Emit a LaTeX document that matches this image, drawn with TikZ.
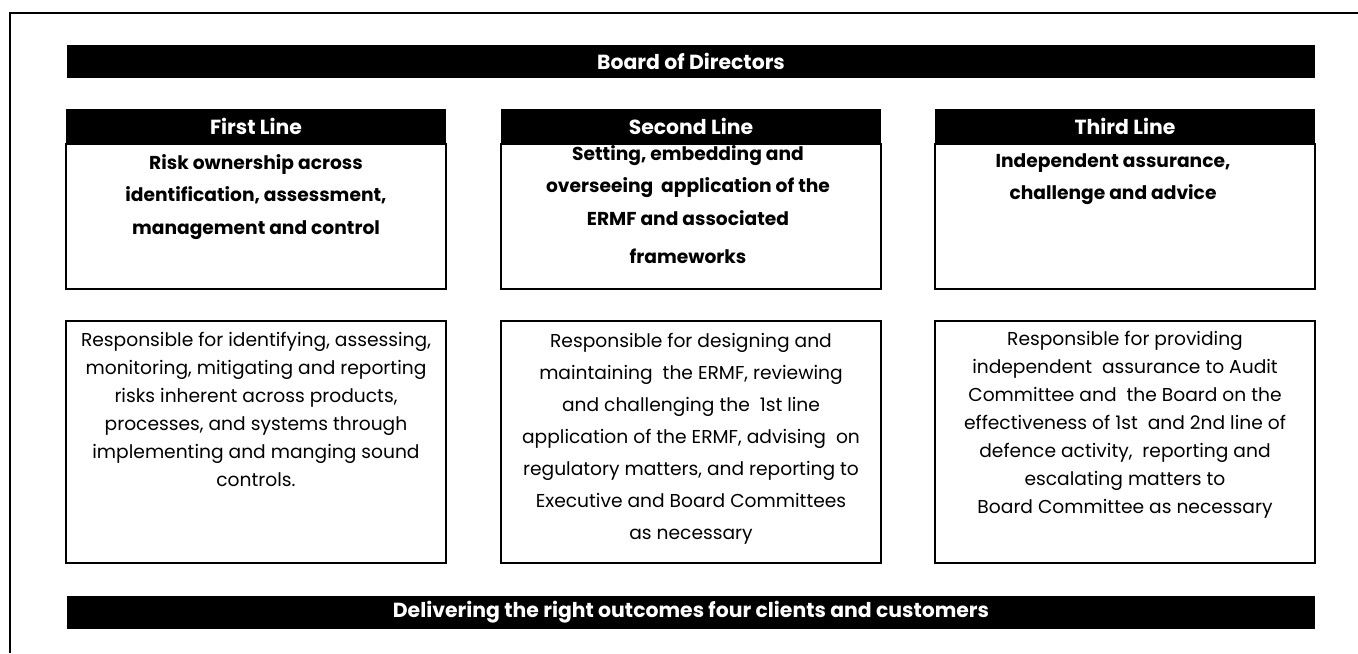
\documentclass[tikz,border=0pt]{standalone}
\usepackage{fontspec}
\setmainfont{Poppins}
\begin{document}
\begin{tikzpicture}[x=0.75pt,y=-0.75pt,
  bar/.style={fill=black, text=white, inner sep=0pt, minimum width=936pt, minimum height=24.75pt, font=\fontsize{15.3}{16}\selectfont\bfseries},
  linehead/.style={fill=black, text=white, inner sep=0pt, minimum width=285pt, minimum height=26.25pt, font=\fontsize{15.3}{16}\selectfont\bfseries},
  rolebox/.style={draw, line width=1.5pt, minimum width=285pt, minimum height=108.75pt, inner sep=0pt},
  dutybox/.style={draw, line width=1.5pt, minimum width=285pt, minimum height=181.5pt, inner sep=0pt},
  roletext/.style={align=center, anchor=north, inner sep=0pt, font=\fontsize{14}{24.5}\selectfont\bfseries},
  dutytext/.style={align=center, anchor=north, inner sep=0pt, font=\fontsize{14}{21}\selectfont},
]
\useasboundingbox (0,0) rectangle (1358,653);
% frame
\draw[line width=1.5pt] (10,653) -- (10,13) -- (1358,13);

\node[bar] (board) at (691,61.5) {Board of Directors};

% first line
\node[linehead] (head1) at (256,126.5) {First Line};
\node[rolebox] (role1) at (256,216.5) {};
\node[roletext] (role1txt) at (256,154) {Risk ownership across\\identification, assessment,\\management and control};
\node[dutybox] (duty1) at (256,442) {};
\node[dutytext] (duty1txt) at (256,332) {Responsible for identifying, assessing,\\monitoring, mitigating and reporting\\risks inherent across products,\\processes, and systems through\\implementing and manging sound\\controls.};

% second line
\node[linehead] (head2) at (691,126.5) {Second Line};
\node[rolebox] (role2) at (691,216.5) {};
\node[roletext] (role2txt) at (688,145) {Setting, embedding and\\overseeing\ \ application of the\\ERMF and associated\\[4pt]frameworks};
\node[dutybox] (duty2) at (691,442) {};
\node[dutytext, font=\fontsize{14}{24}\selectfont] (duty2txt) at (691,333) {Responsible for designing and\\maintaining\ \ the ERMF, reviewing\\and challenging the\ \ 1st line\\application of the ERMF, advising\ \ on\\regulatory matters, and reporting to\\Executive and Board Committees\\as necessary};

% third line
\node[linehead] (head3) at (1125,126.5) {Third Line};
\node[rolebox] (role3) at (1125,216.5) {};
\node[roletext] (role3txt) at (1113,153) {Independent assurance,\\challenge and advice};
\node[dutybox] (duty3) at (1125,442) {};
\node[dutytext] (duty3txt) at (1125,331) {Responsible for providing\\independent\ \ assurance to Audit\\Committee and\ \ the Board on the\\effectiveness of 1st\ \ and 2nd line of\\defence activity,\ \ reporting and\\escalating matters to\\Board Committee as necessary};

\node[bar] (outcome) at (691,612.5) {Delivering the right outcomes four clients and customers};
\end{tikzpicture}
\end{document}
